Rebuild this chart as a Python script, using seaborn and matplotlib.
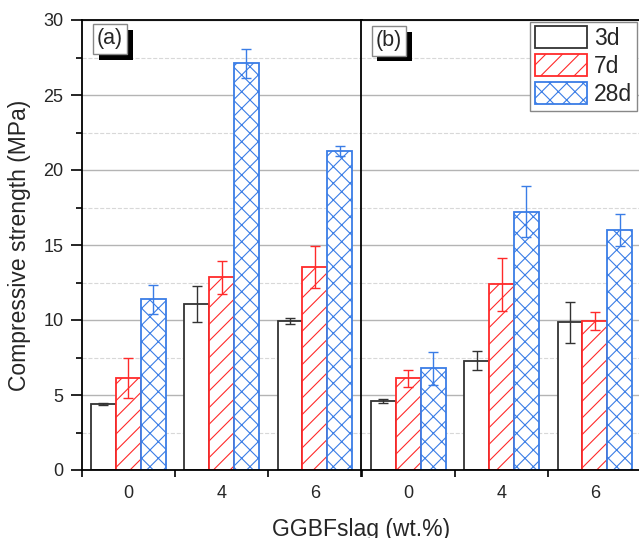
import matplotlib
matplotlib.use("Agg")
from matplotlib import pyplot as plt
from matplotlib.patches import Patch
from matplotlib.ticker import MultipleLocator, FixedLocator
import matplotlib.patheffects as pe
import seaborn as sns
import pandas as pd

# data
slag = ['0', '4', '6']
ages = ['3d', '7d', '28d']

a_3d = [4.4, 11.04, 9.96]
a_7d = [6.11, 12.84, 13.56]
a_28d = [11.38, 27.11, 21.27]
a_3d_err = [0.06, 1.2, 0.2]
a_7d_err = [1.33, 1.08, 1.4]
a_28d_err = [0.97, 0.95, 0.35]

b_3d = [4.6, 7.29, 9.84]
b_7d = [6.11, 12.38, 9.96]
b_28d = [6.78, 17.22, 16.0]
b_3d_err = [0.15, 0.65, 1.35]
b_7d_err = [0.55, 1.75, 0.6]
b_28d_err = [1.1, 1.7, 1.05]

colors = {'3d': '#333333', '7d': '#ff2a2a', '28d': '#3a7de6'}
hatches = {'3d': '', '7d': '//', '28d': 'xx'}


def make_df(vals, errs):
    rows = []
    for age, v, e in zip(ages, vals, errs):
        for s, vv, ee in zip(slag, v, e):
            rows.append({'slag': s, 'age': age, 'value': vv, 'err': ee})
    return pd.DataFrame(rows)


df_a = make_df([a_3d, a_7d, a_28d], [a_3d_err, a_7d_err, a_28d_err])
df_b = make_df([b_3d, b_7d, b_28d], [b_3d_err, b_7d_err, b_28d_err])

sns.set_style('white')
plt.rcParams['font.family'] = ['Liberation Sans', 'DejaVu Sans']
plt.rcParams['hatch.linewidth'] = 0.8

fig = plt.figure(figsize=(6.39, 5.38), dpi=100)
ax1 = fig.add_axes([81.5 / 639, 1 - 470 / 538, 280 / 639, 450 / 538])
ax2 = fig.add_axes([361.5 / 639, 1 - 470 / 538, 280 / 639, 450 / 538], sharey=ax1)


def draw(ax, df, label, lx, ly):
    sns.barplot(data=df, x='slag', y='value', hue='age', order=slag,
                hue_order=ages, errorbar=None, width=0.8, ax=ax,
                palette=colors, legend=False)
    for age, cont in zip(ages, ax.containers):
        sub = df[df.age == age].set_index('slag').loc[slag]
        xs = []
        for p in cont:
            p.set_facecolor('white')
            p.set_edgecolor(colors[age])
            p.set_hatch(hatches[age])
            p.set_linewidth(1.3)
            p.set_zorder(2)
            xs.append(p.get_x() + p.get_width() / 2)
        ax.errorbar(xs, sub['value'], yerr=sub['err'], fmt='none',
                    ecolor=colors[age], elinewidth=1, capsize=3.3,
                    capthick=1, zorder=3)
    ax.set_xlim(-0.5, 2.5)
    ax.set_ylim(0, 30)
    ax.yaxis.set_major_locator(MultipleLocator(5))
    ax.yaxis.set_minor_locator(MultipleLocator(2.5))
    ax.xaxis.set_minor_locator(FixedLocator([-0.5, 0.5, 1.5, 2.5]))
    ax.grid(axis='y', which='major', color='#b4b4b4', lw=1, zorder=0)
    ax.grid(axis='y', which='minor', color='#d8d8d8', lw=0.8, ls='--', zorder=0)
    ax.set_axisbelow(True)
    for s in ax.spines.values():
        s.set_color('black')
        s.set_linewidth(1.3)
    ax.tick_params(axis='x', which='major', length=0, pad=11, labelsize=13)
    ax.tick_params(axis='x', which='minor', bottom=True, length=5, width=1.2,
                   direction='out', color='black')
    ax.set_xlabel('')
    ax.set_ylabel('')
    t = ax.text(lx, ly, label, transform=ax.transAxes, ha='center',
                va='center', fontsize=15.5, zorder=5,
                bbox=dict(boxstyle='square,pad=0.2', fc='white', ec='#888888', lw=1))
    t.get_bbox_patch().set_path_effects([
        pe.SimplePatchShadow(offset=(4.3, -4.3), shadow_rgbFace='black', alpha=1),
        pe.Normal()])


draw(ax1, df_a, '(a)', 0.102, 0.958)
draw(ax2, df_b, '(b)', 0.098, 0.954)

ax1.tick_params(axis='y', which='major', left=True, length=8, width=1.2,
                direction='out', pad=5, labelsize=13, color='black')
ax1.tick_params(axis='y', which='minor', left=True, length=4, width=1.2,
                direction='out', color='black')
ax1.set_ylabel('Compressive strength (MPa)', fontsize=16.5, labelpad=9)
ax2.tick_params(axis='y', which='both', left=False, labelleft=False)

handles = [Patch(facecolor='white', edgecolor=colors[a], hatch=hatches[a],
                 linewidth=1.3, label=a) for a in ages]
ax2.legend(handles=handles, loc='upper right', bbox_to_anchor=(0.984, 0.996),
           fontsize=16.5, frameon=True, fancybox=False, edgecolor='#888888',
           framealpha=1, handlelength=2.3, handleheight=1.1,
           labelspacing=0.18, borderpad=0.2, handletextpad=0.3,
           borderaxespad=0)

fig.text(361 / 639, 2 / 538, 'GGBFslag (wt.%)', ha='center', va='baseline',
         fontsize=16.5)

fig.savefig('out.png', dpi=100)
